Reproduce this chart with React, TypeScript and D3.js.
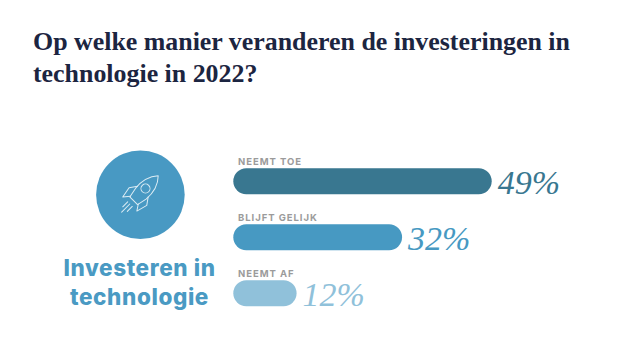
import React from "react";
import * as d3 from "d3";

const categories = ["NEEMT TOE", "BLIJFT GELIJK", "NEEMT AF"];
const seriesValues = [49, 32, 12];
const barColors = ["#397790", "#4799c2", "#90c1da"];
const titleLines = ["Op welke manier veranderen de investeringen in", "technologie in 2022?"];
const sideLabel = ["Investeren in", "technologie"];

const x = d3.scaleLinear().domain([0, 49]).range([233.3, 491.7]);
const y = d3.scaleBand<string>().domain(categories).range([168.3, 306.3]).paddingInner(0.536).paddingOuter(0);

export default function App() {
  const h = y.bandwidth();
  return (
    <svg width={630} height={364} viewBox="0 0 630 364" style={{ position: "absolute", left: 0, top: 0, background: "#fff" }}>
      {titleLines.map((t, i) => (
        <text key={t} x={33} y={49.5 + i * 32} fontFamily="'Liberation Serif'" fontWeight={700} fontSize={25.9} fill="#1c2541">{t}</text>
      ))}
      <circle cx={140.4} cy={194.8} r={44.3} fill="#4899c3" />
      <g transform="translate(140.4 194.8) rotate(45)" fill="none" stroke="#dcecf4" strokeWidth={1} strokeLinejoin="round" strokeLinecap="round">
        <path d="M-0.8,-26 C6,-19 8,-10 7,-1 L5,9 L-6,9 L-8,-1 C-9,-10 -7,-19 -0.8,-26 Z" />
        <circle cx={-0.8} cy={-8} r={4.5} />
        <path d="M-8,-4 L-13,3 L-11,14 L-6,8" />
        <path d="M7,-4 L12,3 L9,14 L5,8" />
        <path d="M-4,14 L-4,21 M-1,14 L-1,25.5 M2.5,14 L2.5,21" />
      </g>
      {sideLabel.map((t, i) => (
        <text key={t} x={139.5} y={275.5 + i * 29} textAnchor="middle" fontFamily="Inter" fontWeight={800} fontSize={22.5} letterSpacing={0.6} fill="#4a9ac3">{t}</text>
      ))}
      {categories.map((c, i) => {
        const top = y(c)!;
        const v = seriesValues[i];
        return (
          <g key={c}>
            <text x={238} y={top - 3.5} fontFamily="Inter" fontWeight={700} fontSize={9.5} letterSpacing={0.95} fill="#9b9b9b">{c}</text>
            <rect x={x(0)} y={top} width={x(v) - x(0)} height={h} rx={h / 2} fill={barColors[i]} />
            <text x={x(v) + 6} y={top + h - 0.5} fontFamily="'Liberation Serif'" fontStyle="italic" fontSize={34} fill={barColors[i]}>{v}%</text>
          </g>
        );
      })}
    </svg>
  );
}
